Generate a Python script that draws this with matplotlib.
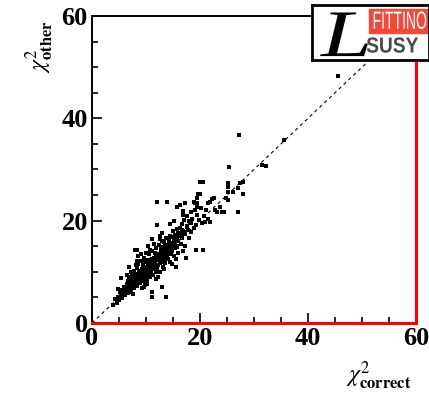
import matplotlib
matplotlib.use("Agg")
import matplotlib.pyplot as plt
from matplotlib.patches import Rectangle, PathPatch
from matplotlib.textpath import TextPath
from matplotlib.font_manager import FontProperties
from matplotlib.transforms import Affine2D

plt.rcParams["mathtext.fontset"] = "stix"

# chi2 with the correct assignment vs chi2 with the other one
chi2_correct = [
    3.9, 4.3, 4.6, 4.8, 5.0, 5.1, 5.3, 5.5, 5.6, 5.8, 5.9, 6.0, 5.3, 4.9,
    6.2, 6.3, 6.4, 6.5, 6.6, 6.7, 6.8, 6.9, 7.0, 7.1, 7.2, 7.3, 7.4, 7.5, 7.6, 7.7, 7.8, 7.9, 8.0, 6.9, 7.2, 6.5, 7.6,
    8.1, 8.2, 8.3, 8.4, 8.5, 8.6, 8.7, 8.8, 8.9, 9.0, 9.1, 9.2, 9.3, 9.4, 9.5, 9.6, 9.7, 9.8, 9.9, 10.0,
    8.0, 8.3, 8.6, 8.4, 9.0, 9.3, 10.0, 8.8, 9.5, 9.9, 8.2, 9.6,
    10.1, 10.2, 10.3, 10.4, 10.5, 10.6, 10.7, 10.8, 10.9, 11.0, 11.1, 11.2, 11.3, 11.4, 11.5, 11.6, 11.7, 11.8, 11.9, 12.0,
    11.1, 12.0, 11.1, 11.1, 10.4, 10.7, 11.4, 10.2, 11.8, 10.6, 11.2, 10.9, 11.5, 10.0,
    12.1, 12.2, 12.3, 12.4, 12.5, 12.6, 12.7, 12.8, 12.9, 13.0, 13.1, 13.2, 13.3, 13.4, 13.5, 13.6, 13.7, 13.8, 13.9, 14.0,
    12.0, 13.9, 12.9, 13.7, 12.5, 13.0, 14.1, 12.3, 12.8, 13.4, 12.6, 13.2,
    14.1, 14.2, 14.3, 14.4, 14.5, 14.6, 14.7, 14.8, 14.9, 15.0, 15.1, 15.2, 15.3, 15.4, 15.5, 15.6, 15.7, 15.8, 15.9, 16.0,
    14.5, 15.2, 14.8, 15.5, 16.0,
    16.1, 16.3, 16.4, 16.6, 16.7, 16.9, 17.0, 17.2, 17.3, 17.5, 17.6, 17.8, 18.0, 17.4, 16.9, 16.9, 16.3, 17.2, 16.9, 17.9,
    18.1, 18.3, 18.4, 18.6, 18.8, 19.0, 19.1, 19.4, 18.8, 19.3, 19.5, 19.7, 20.0, 20.0, 20.5, 19.8, 20.1, 20.4, 20.9, 21.5,
    21.8, 19.3, 20.6, 21.2, 20.7, 15.7, 19.4, 19.4, 19.4,
    21.5, 22.5, 22.8, 23.1, 24.0, 24.4, 25.2, 25.2, 27.4, 27.9, 28.0, 27.0, 25.4, 27.3, 31.4, 32.3, 35.6, 45.6,
    21.9, 22.3, 23.7, 24.9, 25.2, 26.2, 27.1, 25.2, 11.6, 12.4, 9.4, 10.8, 13.6, 14.4, 7.0, 8.6,
    6.1, 6.6, 7.0, 7.4, 7.8, 8.2, 8.6, 9.0, 9.4, 9.8, 10.2, 10.6, 11.0, 11.4, 11.8, 12.2, 12.6, 13.0, 13.4, 13.8,
    14.2, 14.6, 15.0, 15.4, 15.8, 16.2, 16.6, 17.0,
    6.4, 6.9, 7.3, 7.7, 8.1, 8.5, 8.9, 9.3, 9.7, 10.1, 10.5, 10.9, 11.3, 11.7, 12.1, 12.5, 12.9, 13.3, 13.7, 14.1,
    14.5, 14.9, 15.3, 15.7,
    7.1, 7.9, 8.7, 9.5, 10.3, 11.1, 11.9, 12.7, 13.5, 14.3, 15.1, 15.9, 16.7, 17.5, 18.3,
]
chi2_other = [
    3.5, 4.6, 3.9, 5.0, 4.4, 6.0, 5.2, 6.4, 4.8, 5.6, 7.0, 6.1, 8.8, 6.6,
    5.4, 6.8, 7.6, 6.2, 8.3, 5.8, 7.1, 9.0, 6.6, 7.9, 8.6, 6.0, 9.4, 7.3, 8.1, 10.2, 6.9, 8.8, 7.6, 11.0, 10.0, 9.4, 5.7,
    9.6, 8.2, 10.8, 7.2, 9.1, 11.6, 8.6, 10.1, 7.8, 9.5, 12.2, 8.9, 10.6, 11.3, 8.3, 9.8, 12.8, 10.4, 7.4, 11.0,
    14.3, 14.3, 13.0, 12.2, 13.4, 6.8, 9.2, 8.0, 10.0, 12.0, 11.4, 7.1,
    8.5, 10.2, 12.4, 9.6, 11.6, 13.4, 10.8, 8.9, 12.0, 10.0, 14.0, 11.2, 9.4, 12.8, 10.6, 13.6, 11.9, 9.9, 14.6, 12.3,
    16.4, 19.2, 6.1, 5.1, 15.0, 14.2, 15.4, 7.6, 8.6, 11.0, 12.6, 9.4, 11.6, 13.6,
    10.6, 13.5, 11.4, 15.2, 12.6, 10.0, 14.1, 12.0, 16.0, 13.0, 11.0, 14.8, 12.4, 15.8, 13.6, 11.8, 16.6, 14.2, 12.9, 15.1,
    23.6, 23.6, 7.1, 5.1, 17.0, 17.6, 12.6, 9.0, 14.8, 10.6, 16.4, 13.2,
    13.8, 16.2, 14.6, 12.0, 17.0, 15.2, 13.4, 16.8, 14.4, 18.0, 15.6, 13.0, 17.2, 14.8, 16.4, 11.0, 18.4, 15.0, 17.6, 16.0,
    19.4, 20.0, 11.6, 12.6, 13.6,
    17.0, 18.6, 15.4, 19.4, 16.6, 18.0, 20.2, 17.4, 15.0, 19.0, 21.0, 18.2, 16.6, 12.8, 21.8, 21.1, 23.1, 23.5, 14.0, 20.0,
    19.6, 21.6, 17.8, 20.4, 18.6, 22.0, 23.5, 22.7, 23.6, 19.2, 21.2, 25.3, 25.3, 27.6, 27.6, 20.2, 22.4, 19.6, 19.8, 20.4,
    19.8, 14.3, 14.3, 22.0, 21.0, 22.6, 24.4, 23.4, 22.6,
    23.4, 24.4, 22.1, 21.6, 21.6, 21.6, 27.3, 26.6, 27.4, 27.6, 25.2, 21.6, 30.4, 36.7, 30.9, 30.7, 35.8, 48.3,
    23.7, 24.2, 22.6, 24.5, 24.0, 25.7, 26.3, 25.7, 11.2, 13.2, 10.8, 11.8, 15.2, 15.6, 7.8, 9.6,
    6.5, 7.0, 7.4, 8.0, 8.2, 8.9, 9.0, 9.6, 9.9, 10.5, 10.8, 11.2, 11.5, 12.1, 12.4, 12.9, 13.1, 13.6, 14.0, 14.5,
    14.8, 15.3, 15.6, 16.1, 16.5, 17.0, 17.3, 17.8,
    5.9, 6.2, 6.8, 7.0, 7.4, 7.9, 8.2, 8.7, 9.0, 9.3, 9.8, 10.1, 10.6, 10.9, 11.4, 11.7, 12.2, 12.4, 12.9, 13.4,
    13.6, 14.1, 14.6, 14.8,
    8.3, 9.1, 10.2, 10.9, 11.8, 12.6, 13.4, 14.1, 15.0, 15.8, 16.5, 17.2, 18.1, 18.7, 19.6,
]
diag = [0, 60]
x_ticks = [0, 20, 40, 60]
y_ticks = [0, 20, 40, 60]

fig = plt.figure(figsize=(4.29, 3.97), dpi=100)
ax = fig.add_axes([0.2145, 0.1864, 0.7552, 0.7733])

ax.plot(diag, diag, color="black", lw=0.8, linestyle=(0, (3, 3)), zorder=1)
ax.scatter(chi2_correct, chi2_other, marker="s", s=8, color="black", lw=0, zorder=2)

ax.set_xlim(0, 60)
ax.set_ylim(0, 60)
ax.set_xticks(x_ticks)
ax.set_yticks(y_ticks)
ax.set_xticks(range(0, 61, 5), minor=True)
ax.set_yticks(range(0, 61, 5), minor=True)
ax.tick_params(which="both", direction="in", top=False, right=False, width=1.2,
               labelsize=19, pad=3)
ax.tick_params(which="major", length=7)
ax.tick_params(which="minor", length=4)
for lab in ax.get_xticklabels() + ax.get_yticklabels():
    lab.set_family("Liberation Serif")
    lab.set_weight("bold")

ax.spines["top"].set_linewidth(1.4)
ax.spines["left"].set_linewidth(1.4)
ax.spines["bottom"].set_color("red")
ax.spines["bottom"].set_linewidth(2.2)
ax.spines["right"].set_color("red")
ax.spines["right"].set_linewidth(2.2)

fig.text(0.093, 0.882, r"$\chi^{2}_{\mathbf{other}}$", rotation=90,
         fontsize=17, ha="center", va="center")
fig.text(0.882, 0.052, r"$\chi^{2}_{\mathbf{correct}}$",
         fontsize=17, ha="center", va="center")

# FITTINO logo box
logo = fig.add_axes([0.727, 0.849, 0.272, 0.139])
logo.set_xlim(0, 1)
logo.set_ylim(0, 1)
logo.set_xticks([])
logo.set_yticks([])
for s in logo.spines.values():
    s.set_linewidth(2)
logo.add_patch(Rectangle((0.49, 0.49), 0.51, 0.44, color="#f04a3a"))


def fit_text(txt, x0, x1, y0, y1, color, prop):
    # squeeze a text path into a box given in logo axes fractions
    tp = TextPath((0, 0), txt, size=1, prop=prop)
    ext = tp.get_extents()
    tr = (Affine2D().translate(-ext.x0, -ext.y0)
          .scale((x1 - x0) / ext.width, (y1 - y0) / ext.height)
          .translate(x0, y0))
    logo.add_patch(PathPatch(tr.transform_path(tp), color=color, lw=0,
                             transform=logo.transAxes))


fit_text("FITTINO", 0.53, 0.98, 0.56, 0.88, "white",
         FontProperties(family="Liberation Sans"))
fit_text("SUSY", 0.47, 0.91, 0.13, 0.41, "#4a4a4a",
         FontProperties(family="Liberation Sans", weight="bold"))
fit_text("L", 0.07, 0.48, 0.07, 0.86, "black",
         FontProperties(family="Liberation Serif", style="italic"))

fig.savefig("out.png", dpi=100)
